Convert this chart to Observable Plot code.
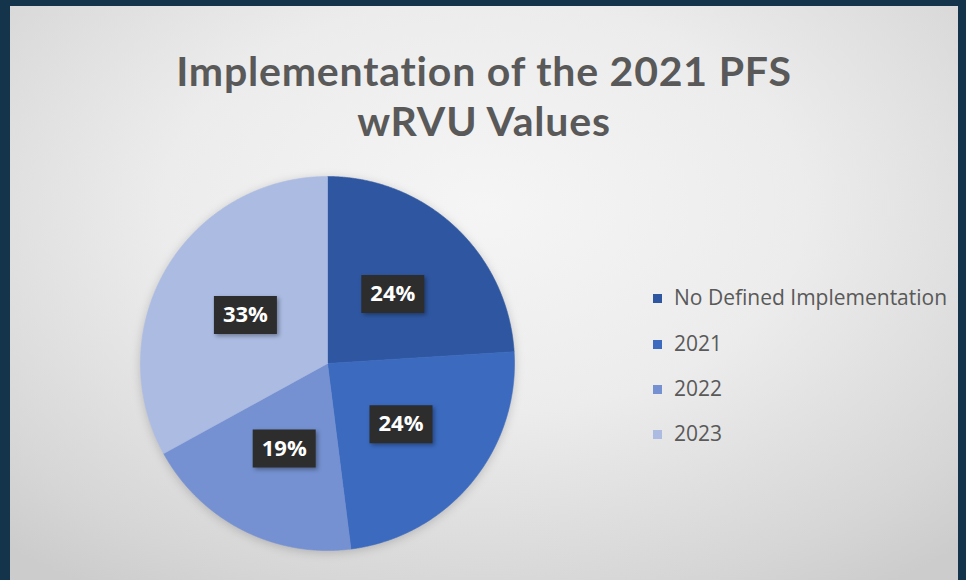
<!DOCTYPE html>
<html>
<head>
<meta charset="utf-8">
<script src="https://cdn.jsdelivr.net/npm/d3@7"></script>
<script src="https://cdn.jsdelivr.net/npm/@observablehq/plot@0.6"></script>
<style>
  html, body { margin: 0; padding: 0; background: #14344c; }
  #frame { position: relative; width: 966px; height: 580px; background: #14344c; overflow: hidden; }
  #panel { position: absolute; left: 10px; top: 6px; width: 948px; height: 574px;
    background: radial-gradient(ellipse 75% 80% at 50% 35%, #f5f5f5 0%, #ececec 45%, #d6d6d6 85%, #cccccc 100%); }
  #title { position: absolute; left: 0; top: 40px; width: 100%; text-align: center;
    font-family: Lato, "Open Sans", sans-serif; font-weight: 700; font-size: 41px; line-height: 49.5px; letter-spacing: 0.8px; color: #595959; }
  #chart { position: absolute; left: 0; top: 144px; }
  #legend { position: absolute; left: 643px; top: 0; font-family: "Open Sans", sans-serif; font-size: 21px; color: #595959; }
  .item { position: absolute; left: 0; white-space: nowrap; height: 24px; line-height: 24px; }
  .sw { position: absolute; left: 0; top: 9px; width: 9px; height: 9px; }
  .lbl { position: absolute; left: 21px; top: 0; }
  #chart g[aria-label="dot"] path { filter: drop-shadow(2px 2px 2px rgba(0,0,0,0.35)); }
  #chart g[aria-label="line"] { filter: drop-shadow(0 2px 5px rgba(0,0,0,0.18)); }
</style>
</head>
<body>
<div id="frame">
  <div id="panel">
    <div id="title">Implementation of the 2021 PFS<br>wRVU Values</div>
    <div id="chart"></div>
    <div id="legend"></div>
  </div>
</div>
<script>
const categories = ["No Defined Implementation", "2021", "2022", "2023"];
const shares = [24, 24, 19, 33];
const colors = ["#2f57a1", "#3b6abf", "#7591d1", "#abbbe2"];

const total = d3.sum(shares);
let acc = 0;
const slices = categories.map((c, i) => {
  const a0 = acc / total * 2 * Math.PI;
  acc += shares[i];
  const a1 = acc / total * 2 * Math.PI;
  return {c, v: shares[i], a0, a1};
});
const pts = slices.flatMap(s => {
  const n = Math.max(2, Math.ceil((s.a1 - s.a0) / 0.005));
  const arr = [{c: s.c, x: 0, y: 0}];
  for (let k = 0; k <= n; k++) {
    const a = s.a0 + (s.a1 - s.a0) * k / n;
    arr.push({c: s.c, x: Math.sin(a), y: -Math.cos(a)});
  }
  arr.push({c: s.c, x: 0, y: 0});
  return arr;
});
const labels = slices.map(s => {
  const m = (s.a0 + s.a1) / 2;
  return {c: s.c, v: s.v, x: 0.51 * Math.sin(m), y: -0.51 * Math.cos(m)};
});
const boxSymbol = { draw(ctx) { ctx.rect(-31.5, -19, 63, 38); } };

const cx = 317, cy = 213, R = 187;
const chart = Plot.plot({
  width: 948, height: 430,
  margin: 0,
  style: {background: "transparent", fontFamily: "'Open Sans', sans-serif", overflow: "visible"},
  x: {domain: [-1, 1], range: [cx - R, cx + R], axis: null},
  y: {domain: [-1, 1], range: [cy - R, cy + R], axis: null},
  color: {domain: categories, range: colors},
  marks: [
    Plot.line(pts, {x: "x", y: "y", z: "c", fill: "c", stroke: "c", strokeWidth: 0.6, curve: "linear-closed"}),
    Plot.dot(labels, {x: "x", y: "y", r: 10, symbol: boxSymbol, fill: "#2d2d2d", stroke: "none"}),
    Plot.text(labels, {x: "x", y: "y", text: d => d.v + "%", fill: "white", fontSize: 22, fontWeight: "bold"})
  ]
});
document.getElementById("chart").appendChild(chart);

const legend = d3.select("#legend");
const rowY = [291, 337, 382, 427];
categories.forEach((c, i) => {
  const it = legend.append("div").attr("class", "item").style("top", (rowY[i] - 12) + "px");
  it.append("div").attr("class", "sw").style("background", colors[i]);
  it.append("div").attr("class", "lbl").text(c);
});
</script>
</body>
</html>
